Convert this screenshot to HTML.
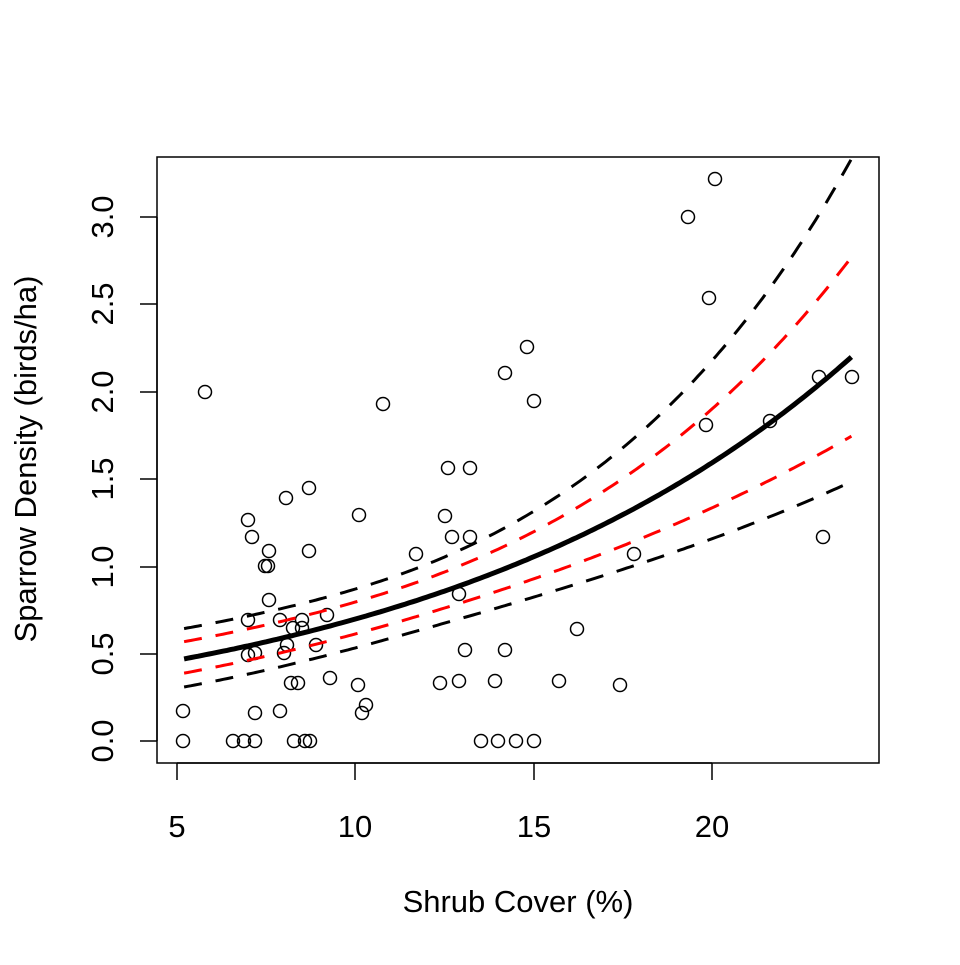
<!DOCTYPE html>
<html><head><meta charset="utf-8"><style>
html,body{margin:0;padding:0;background:#fff;}
svg text{font-family:"Liberation Sans",Arial,sans-serif;fill:#000;}
</style></head><body>
<svg id="s" width="960" height="960" xmlns="http://www.w3.org/2000/svg">
<defs><clipPath id="c"><rect x="157" y="157" width="722" height="606"/></clipPath></defs>
<rect x="0" y="0" width="960" height="960" fill="#fff"/>
<rect x="157" y="157" width="722" height="606" fill="none" stroke="#000" stroke-width="1.5"/>
<g stroke="#000" stroke-width="1.5">
<line x1="177" y1="763" x2="712" y2="763"/>
<line x1="177" y1="763" x2="177" y2="780"/><line x1="355" y1="763" x2="355" y2="780"/>
<line x1="534" y1="763" x2="534" y2="780"/><line x1="712" y1="763" x2="712" y2="780"/>
<line x1="157" y1="217" x2="157" y2="741"/>
<line x1="140" y1="741" x2="157" y2="741"/><line x1="140" y1="654" x2="157" y2="654"/>
<line x1="140" y1="567" x2="157" y2="567"/><line x1="140" y1="479" x2="157" y2="479"/>
<line x1="140" y1="392" x2="157" y2="392"/><line x1="140" y1="304" x2="157" y2="304"/>
<line x1="140" y1="217" x2="157" y2="217"/>
</g>
<g font-size="31" text-anchor="middle">
<text x="177" y="837">5</text><text x="355" y="837">10</text><text x="534" y="837">15</text><text x="712" y="837">20</text>
<text transform="translate(113,741) rotate(-90)">0.0</text>
<text transform="translate(113,654) rotate(-90)">0.5</text>
<text transform="translate(113,567) rotate(-90)">1.0</text>
<text transform="translate(113,479) rotate(-90)">1.5</text>
<text transform="translate(113,392) rotate(-90)">2.0</text>
<text transform="translate(113,304) rotate(-90)">2.5</text>
<text transform="translate(113,217) rotate(-90)">3.0</text>
<text x="518" y="912">Shrub Cover (%)</text>
<text transform="translate(36,459) rotate(-90)">Sparrow Density (birds/ha)</text>
</g>
<g id="pts" fill="none" stroke="#000" stroke-width="1.5"></g>
<g id="lines" clip-path="url(#c)" fill="none"></g>
</svg>
<script>
var P=[[183,711],[183,741],[205,392],[233,741],[244,741],[255,741],[248,520],[252,537],[248,620],[248,655],[255,653],[255,713],[265,566],[268,566],[269,551],[269,600],[280,620],[280,711],[286,498],[284,653],[287,645],[291,683],[293,628],[294,741],[298,683],[302,620],[302,628],[305,741],[310,741],[309,488],[309,551],[316,645],[327,615],[330,678],[359,515],[358,685],[362,713],[366,705],[383,404],[416,554],[440,683],[445,516],[448,468],[452,537],[459,594],[459,681],[465,650],[470,468],[470,537],[481,741],[495,681],[498,741],[505,373],[505,650],[516,741],[527,347],[534,401],[534,741],[559,681],[577,629],[620,685],[634,554],[688,217],[715,179],[709,298],[706,425],[770,421],[819,377],[823,537],[852,377]];
var g=document.getElementById('pts'),h='';
P.forEach(function(p){h+='<circle cx="'+p[0]+'" cy="'+p[1]+'" r="6.5"/>';});
g.innerHTML=h;
function X(v){return 177+(v-5)*35.68;}
function Y(v){return 741-v*174.67;}
function c(x){return Math.log(0.47)+0.0825*(x-5.2);}
function w(x){var d=x-12.5;return Math.sqrt(0.0144+(d<0?0.00041:0.0003)*d*d);}
function t(x){return (x-5.2)/18.7;}
function path(f){var d='';for(var x=5.2;x<=23.92;x+=0.1){d+=(d?'L':'M')+X(x).toFixed(1)+','+Y(Math.exp(f(x))).toFixed(1);}return d;}
var L='';
L+='<path d="'+path(function(x){return c(x)+(1.65+0.15*t(x))*w(x);})+'" stroke="#000" stroke-width="3" stroke-dasharray="18,14"/>';
L+='<path d="'+path(function(x){return c(x)-(2.2-0.5*t(x))*w(x);})+'" stroke="#000" stroke-width="3" stroke-dasharray="18,14"/>';
L+='<path d="'+path(function(x){return c(x)+w(x);})+'" stroke="#f00" stroke-width="3" stroke-dasharray="18,14"/>';
L+='<path d="'+path(function(x){return c(x)-w(x);})+'" stroke="#f00" stroke-width="3" stroke-dasharray="18,14"/>';
L+='<path d="'+path(c)+'" stroke="#000" stroke-width="5"/>';
document.getElementById('lines').innerHTML=L;
</script>
</body></html>
